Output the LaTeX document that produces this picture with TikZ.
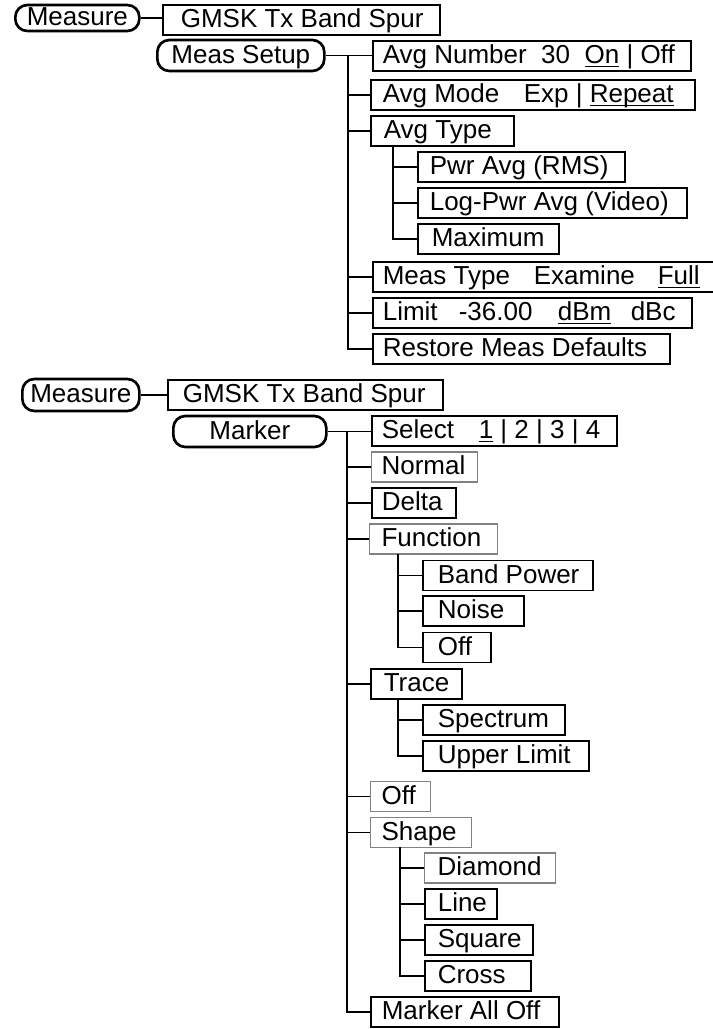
\documentclass[tikz,border=0pt]{standalone}
\usepackage{fontspec}
\setmainfont{Liberation Sans}
\newdimen\pxu \pxu=0.75pt
\definecolor{boxgray}{RGB}{130,130,130}
\newcommand\tpos[2]{\rlap{\hspace*{#1\pxu}#2}}
\newcommand\uln[1]{\setbox0=\hbox{#1}\rlap{\rule[-3.6\pxu]{\wd0}{1.3\pxu}}\box0\relax}
\newcommand\bxt[3]{\tpos{#2}{#3}\hspace*{#1\pxu}}
\begin{document}
\begin{tikzpicture}[x=0.75pt,y=-0.75pt,
  font=\fontsize{19.5pt}{22pt}\selectfont,
  rb/.style={draw, line width=1.2pt, inner sep=0pt, minimum height=22.5pt,
    text height=14pt, text depth=2.5pt, anchor=west},
  gb/.style={rb, draw=boxgray, line width=0.8pt},
  rnd/.style={draw, line width=2pt, rounded corners=9pt, inner sep=0pt,
    text height=14pt, text depth=2.5pt, anchor=west},
  conn/.style={line width=1.1pt},
  thinc/.style={line width=0.8pt}]
\fill[white] (0,0) rectangle (713,1029);
\useasboundingbox (0,0) rectangle (713,1029);

% ---------- section 1 ----------
\node[rnd, minimum width=93pt, minimum height=19.5pt] (m1) at (14,18) {Measure};
\node[rb] (g1) at (162,20) {\bxt{277}{18}{GMSK Tx Band Spur}};
\node[rnd, minimum width=125.25pt, minimum height=23.25pt] (ms) at (156,55.5) {Meas Setup};

\node[rb] (an) at (372,56) {\bxt{318}{10}{Avg Number\ \ 30\ \ \uln{On} | Off}};
\node[rb] (am) at (370,95) {\tpos{12}{Avg Mode}\tpos{153}{Exp | \uln{Repeat}}\hspace*{324\pxu}};
\node[rb] (at) at (370,131) {\bxt{143}{13}{Avg Type}};
\node[rb] (pa) at (417,167) {\bxt{207}{12}{Pwr Avg (RMS)}};
\node[rb] (lp) at (417,203) {\bxt{269}{12}{Log-Pwr Avg (Video)}};
\node[rb] (mx) at (417,239) {\bxt{141}{14}{Maximum}};
\node[rb] (mt) at (372,277) {\tpos{10}{Meas Type}\tpos{161}{Examine}\tpos{285}{\uln{Full}}\hspace*{350\pxu}};
\node[rb] (li) at (372,313) {\tpos{10}{Limit}\tpos{86}{-36.00}\tpos{185}{\uln{dBm}}\tpos{258}{dBc}\hspace*{319\pxu}};
\node[rb] (rd) at (372,349) {\bxt{297}{10}{Restore Meas Defaults}};

\draw[thinc] (m1.east) -- (m1.east -| g1.west);
\draw[conn] (ms.east) -- (ms.east -| an.west);
\coordinate (t1) at (348,55.5);
\draw[conn] (t1) |- (rd.west);
\foreach \n in {am,at,mt,li} \draw[conn] (t1 |- \n.west) -- (\n.west);
\coordinate (s1) at (393,146);
\draw[conn] (s1) |- (mx.west);
\foreach \n in {pa,lp} \draw[conn] (s1 |- \n.west) -- (\n.west);

% ---------- section 2 ----------
\node[rnd, minimum width=87.75pt, minimum height=24pt] (m2) at (21,395) {Measure};
\node[rb] (g2) at (167,395) {\bxt{275}{15}{GMSK Tx Band Spur}};
\node[rnd, minimum width=114.75pt, minimum height=23.25pt] (mk) at (172,431.5) {Marker};

\node[rb] (se) at (371,431) {\tpos{10}{Select}\tpos{107}{\uln{1} | 2 | 3 | 4}\hspace*{245\pxu}};
\node[gb] (no) at (371,467) {\bxt{106}{10}{Normal}};
\node[rb] (de) at (371,503) {\bxt{84}{10}{Delta}};
\node[gb] (fu) at (369,539) {\bxt{128}{12}{Function}};
\node[rb] (bp) at (422,575.5) {\bxt{170}{15}{Band Power}};
\node[rb] (ns) at (422,611) {\bxt{101}{15}{Noise}};
\node[rb] (of1) at (422,647.5) {\bxt{68}{15}{Off}};
\node[rb] (tr) at (370,684) {\bxt{91}{13}{Trace}};
\node[rb] (sp) at (422,720) {\bxt{142}{15}{Spectrum}};
\node[rb] (ulm) at (422,756) {\bxt{166}{15}{Upper Limit}};
\node[gb] (of2) at (370,796.5) {\bxt{60}{11}{Off}};
\node[gb] (sh) at (370,832.5) {\bxt{101}{11}{Shape}};
\node[gb] (di) at (424,868) {\bxt{131}{13}{Diamond}};
\node[rb] (ln) at (424,904) {\bxt{72}{13}{Line}};
\node[rb] (sq) at (424,940) {\bxt{108}{13}{Square}};
\node[rb] (cr) at (424,976) {\bxt{106}{13}{Cross}};
\node[rb] (mao) at (370,1012) {\bxt{188}{11}{Marker All Off}};

\draw[thinc] (m2.east) -- (m2.east -| g2.west);
\draw[conn] (mk.east) -- (mk.east -| se.west);
\coordinate (t2) at (347,431.5);
\draw[conn] (t2) |- (mao.west);
\foreach \n in {no,de,fu,tr,of2,sh} \draw[conn] (t2 |- \n.west) -- (\n.west);
\coordinate (s2) at (398,554);
\draw[conn] (s2) |- (of1.west);
\foreach \n in {bp,ns} \draw[conn] (s2 |- \n.west) -- (\n.west);
\coordinate (s3) at (398,699);
\draw[conn] (s3) |- (ulm.west);
\draw[conn] (s3 |- sp.west) -- (sp.west);
\coordinate (s4) at (400,847);
\draw[conn] (s4) |- (cr.west);
\foreach \n in {di,ln,sq} \draw[conn] (s4 |- \n.west) -- (\n.west);
\end{tikzpicture}
\end{document}
